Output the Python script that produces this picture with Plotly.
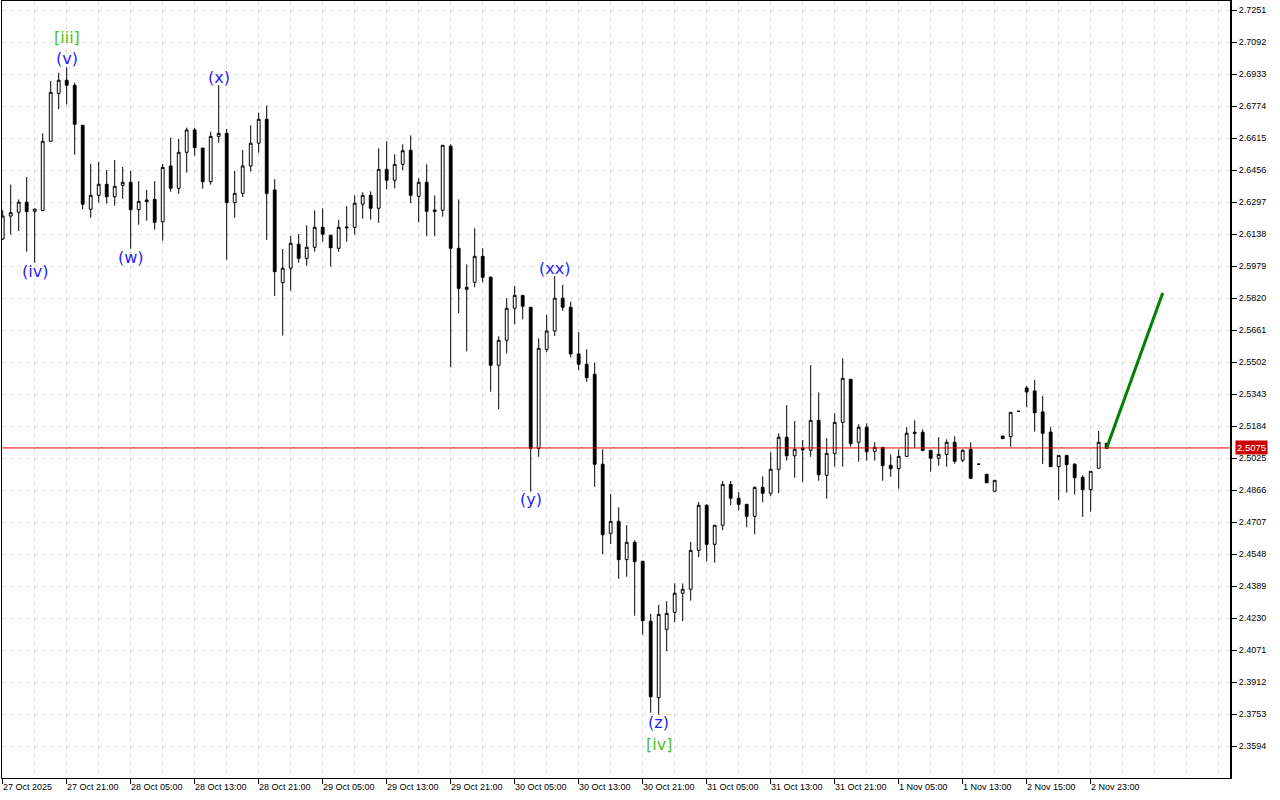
import plotly.graph_objects as go

# ---------------- data (hourly candles) ----------------
opens = [2.6113, 2.6227, 2.6246, 2.6296, 2.6251, 2.6254, 2.6599, 2.6837, 2.6902, 2.6877,
         2.6678, 2.6261, 2.6330, 2.6385, 2.6323, 2.6380, 2.6395, 2.6259, 2.6307, 2.6310,
         2.6199, 2.6476, 2.6365, 2.6544, 2.6655, 2.6565, 2.6398, 2.6623, 2.6638, 2.6294,
         2.6340, 2.6476, 2.6589, 2.6708, 2.6357, 2.5896, 2.5968, 2.6087, 2.6017, 2.6072,
         2.6171, 2.6132, 2.6067, 2.6173, 2.6171, 2.6286, 2.6330, 2.6266, 2.6459, 2.6405,
         2.6484, 2.6554, 2.6325, 2.6395, 2.6257, 2.6256, 2.6574, 2.6067, 2.5863, 2.5898,
         2.6027, 2.5923, 2.5486, 2.5610, 2.5769, 2.5833, 2.5774, 2.5073, 2.5565, 2.5656,
         2.5819, 2.5774, 2.5542, 2.5491, 2.5441, 2.4994, 2.4651, 2.4710, 2.4520, 2.4606,
         2.4512, 2.4214, 2.3834, 2.4174, 2.4258, 2.4353, 2.4373, 2.4566, 2.4790, 2.4596,
         2.4691, 2.4894, 2.4825, 2.4795, 2.4735, 2.4879, 2.4850, 2.4969, 2.5128, 2.5036,
         2.5073, 2.5063, 2.5212, 2.4939, 2.5048, 2.5202, 2.5416, 2.5103, 2.5178, 2.5058,
         2.5078, 2.4989, 2.4972, 2.5033, 2.5153, 2.5153, 2.5063, 2.5024, 2.5043, 2.5103,
         2.5014, 2.5068, 2.4994, 2.4944, 2.4860, 2.5134, 2.5131, 2.5257, 2.5373, 2.5358,
         2.5254, 2.5154, 2.4982, 2.5038, 2.4994, 2.4929, 2.4868, 2.4974, 2.5098]

highs = [2.6257, 2.6383, 2.6310, 2.6421, 2.6262, 2.6638, 2.6898, 2.6939, 2.6966, 2.6890,
         2.6678, 2.6486, 2.6496, 2.6456, 2.6506, 2.6471, 2.6451, 2.6401, 2.6357, 2.6401,
         2.6486, 2.6617, 2.6610, 2.6666, 2.6666, 2.6565, 2.6646, 2.6877, 2.6660, 2.6451,
         2.6555, 2.6678, 2.6741, 2.6777, 2.6410, 2.6063, 2.6128, 2.6138, 2.6181, 2.6256,
         2.6266, 2.6132, 2.6208, 2.6276, 2.6330, 2.6345, 2.6350, 2.6564, 2.6599, 2.6534,
         2.6584, 2.6628, 2.6415, 2.6484, 2.6330, 2.6579, 2.6584, 2.6310, 2.5987, 2.6166,
         2.6067, 2.5928, 2.5630, 2.5819, 2.5880, 2.5833, 2.5774, 2.5620, 2.5736, 2.5929,
         2.5885, 2.5802, 2.5650, 2.5565, 2.5499, 2.5068, 2.4846, 2.4780, 2.4691, 2.4616,
         2.4512, 2.4251, 2.4295, 2.4313, 2.4402, 2.4402, 2.4608, 2.4806, 2.4795, 2.4691,
         2.4911, 2.4911, 2.4855, 2.4795, 2.4884, 2.4934, 2.5053, 2.5148, 2.5288, 2.5209,
         2.5114, 2.5487, 2.5351, 2.5123, 2.5247, 2.5520, 2.5416, 2.5193, 2.5197, 2.5103,
         2.5078, 2.5043, 2.5068, 2.5178, 2.5212, 2.5168, 2.5063, 2.5128, 2.5118, 2.5133,
         2.5068, 2.5103, 2.4996, 2.4944, 2.4914, 2.5134, 2.5252, 2.5259, 2.5383, 2.5413,
         2.5333, 2.5178, 2.5038, 2.5038, 2.4999, 2.4939, 2.4959, 2.5159, 2.5098]

lows = [2.6108, 2.6135, 2.6153, 2.6050, 2.5995, 2.6254, 2.6599, 2.6758, 2.6781, 2.6532,
        2.6261, 2.6219, 2.6294, 2.6289, 2.6279, 2.6313, 2.6065, 2.6184, 2.6204, 2.6159,
        2.6105, 2.6348, 2.6338, 2.6443, 2.6527, 2.6363, 2.6383, 2.6592, 2.6010, 2.6219,
        2.6322, 2.6448, 2.6542, 2.6108, 2.5830, 2.5633, 2.5856, 2.5995, 2.5981, 2.6050,
        2.6100, 2.5976, 2.6050, 2.6100, 2.6135, 2.6214, 2.6209, 2.6194, 2.6360, 2.6365,
        2.6455, 2.6291, 2.6196, 2.6127, 2.6127, 2.6224, 2.5476, 2.5744, 2.5555, 2.5873,
        2.5898, 2.5354, 2.5267, 2.5545, 2.5689, 2.5714, 2.4858, 2.5031, 2.5550, 2.5631,
        2.5757, 2.5525, 2.5462, 2.5404, 2.4882, 2.4548, 2.4598, 2.4425, 2.4435, 2.4241,
        2.4147, 2.3759, 2.3750, 2.4065, 2.4209, 2.4214, 2.4316, 2.4532, 2.4512, 2.4505,
        2.4666, 2.4790, 2.4765, 2.4681, 2.4646, 2.4805, 2.4835, 2.4850, 2.5012, 2.4927,
        2.4907, 2.5031, 2.4912, 2.4823, 2.4982, 2.4982, 2.5081, 2.5007, 2.5012, 2.5012,
        2.4912, 2.4932, 2.4872, 2.5033, 2.5073, 2.5058, 2.4957, 2.4987, 2.4982, 2.4997,
        2.5004, 2.4924, 2.4991, 2.4902, 2.4855, 2.5121, 2.5081, 2.5255, 2.5277, 2.5156,
        2.4995, 2.4982, 2.4816, 2.4853, 2.4843, 2.4733, 2.4758, 2.4974, 2.5073]

closes = [2.6227, 2.6244, 2.6296, 2.6249, 2.6262, 2.6599, 2.6842, 2.6902, 2.6877, 2.6683,
          2.6286, 2.6330, 2.6385, 2.6323, 2.6375, 2.6395, 2.6259, 2.6300, 2.6299, 2.6196,
          2.6469, 2.6365, 2.6544, 2.6655, 2.6567, 2.6398, 2.6623, 2.6638, 2.6294, 2.6340,
          2.6476, 2.6589, 2.6708, 2.6340, 2.5951, 2.5968, 2.6092, 2.6017, 2.6072, 2.6171,
          2.6137, 2.6070, 2.6171, 2.6169, 2.6291, 2.6330, 2.6266, 2.6459, 2.6405, 2.6484,
          2.6552, 2.6330, 2.6395, 2.6251, 2.6251, 2.6579, 2.6067, 2.5868, 2.5873, 2.6027,
          2.5923, 2.5486, 2.5610, 2.5769, 2.5833, 2.5779, 2.5073, 2.5570, 2.5656, 2.5819,
          2.5774, 2.5542, 2.5491, 2.5424, 2.4994, 2.4644, 2.4710, 2.4520, 2.4606, 2.4510,
          2.4217, 2.3839, 2.4248, 2.4253, 2.4353, 2.4373, 2.4566, 2.4790, 2.4596, 2.4691,
          2.4894, 2.4825, 2.4795, 2.4735, 2.4879, 2.4850, 2.4969, 2.5128, 2.5036, 2.5068,
          2.5066, 2.5212, 2.4942, 2.5048, 2.5202, 2.5421, 2.5096, 2.5178, 2.5056, 2.5078,
          2.4987, 2.4972, 2.5033, 2.5148, 2.5148, 2.5063, 2.5024, 2.5043, 2.5103, 2.5009,
          2.5063, 2.4924, 2.4994, 2.4902, 2.4914, 2.5121, 2.5252, 2.5257, 2.5353, 2.5250,
          2.5148, 2.4982, 2.5038, 2.4992, 2.4927, 2.4868, 2.4959, 2.5103, 2.5073]

x_tick_bars = [0, 8, 16, 24, 32, 40, 48, 56, 64, 72, 80, 88, 96, 104, 112, 120, 128, 136]
x_tick_labels = ["27 Oct 2025", "27 Oct 21:00", "28 Oct 05:00", "28 Oct 13:00", "28 Oct 21:00",
                 "29 Oct 05:00", "29 Oct 13:00", "29 Oct 21:00", "30 Oct 05:00", "30 Oct 13:00",
                 "30 Oct 21:00", "31 Oct 05:00", "31 Oct 13:00", "31 Oct 21:00", "1 Nov 05:00",
                 "1 Nov 13:00", "2 Nov 15:00", "2 Nov 23:00"]

y_tick_labels = ["2.3594", "2.3753", "2.3912", "2.4071", "2.4230", "2.4389", "2.4548", "2.4707",
                 "2.4866", "2.5025", "2.5184", "2.5343", "2.5502", "2.5661", "2.5820", "2.5979",
                 "2.6138", "2.6297", "2.6456", "2.6615", "2.6774", "2.6933", "2.7092", "2.7251"]

current_price = 2.5075
forecast_bars = [138, 145]
forecast_prices = [2.5075, 2.5845]

BLUE = "#1f1fff"
GREEN = "#4fc02a"
# (text, bar index, anchor, pixel offset, colour)
wave_labels = [
    ("[iii]", 8, "high", 30, GREEN),
    ("(v)", 8, "high", 9, BLUE),
    ("(iv)", 4, "low", -9, BLUE),
    ("(w)", 16, "low", -9, BLUE),
    ("(x)", 27, "high", 8, BLUE),
    ("(xx)", 69, "high", 8, BLUE),
    ("(y)", 66, "low", -8, BLUE),
    ("(z)", 82, "low", -8, BLUE),
    ("[iv]", 82, "low", -30, GREEN),
]

# ---------------- figure ----------------
bars = list(range(len(opens)))

fig = go.Figure()
fig.add_trace(go.Candlestick(
    x=bars, open=opens, high=highs, low=lows, close=closes,
    increasing=dict(line=dict(color="black", width=1), fillcolor="white"),
    decreasing=dict(line=dict(color="black", width=1), fillcolor="black"),
    whiskerwidth=0, showlegend=False, hoverinfo="skip",
))

fig.add_trace(go.Scatter(
    x=forecast_bars, y=forecast_prices, mode="lines",
    line=dict(color="#008000", width=3), showlegend=False, hoverinfo="skip",
))

# current price line
fig.add_shape(type="line", xref="paper", x0=0, x1=1, yref="y",
              y0=current_price, y1=current_price,
              line=dict(color="#e00000", width=1), layer="above")

fig.add_annotation(xref="paper", x=1, xanchor="left", xshift=4,
                   yref="y", y=current_price, yanchor="middle",
                   text=f"{current_price:.4f}", showarrow=False,
                   bgcolor="#c80000", borderpad=1,
                   font=dict(family="Liberation Sans", size=9.5, color="white"))

# wave labels
for text, idx, anchor, off, col in wave_labels:
    yv = highs[idx] if anchor == "high" else lows[idx]
    fig.add_annotation(x=idx, y=yv, xref="x", yref="y", text=text, showarrow=False,
                       yanchor="middle", yshift=off,
                       font=dict(family="DejaVu Sans", size=16, color=col))

# x tick labels (left aligned to the tick as in the terminal)
for b, lab in zip(x_tick_bars, x_tick_labels):
    fig.add_annotation(x=b, y=0, xref="x", yref="paper", text=lab, showarrow=False,
                       xanchor="left", yanchor="top", xshift=-2, yshift=-2,
                       font=dict(family="Liberation Sans", size=9, color="black"))

grid_col = "#dedede"
fig.update_layout(
    width=1280, height=800,
    margin=dict(l=2, r=49, t=1, b=22, autoexpand=False),
    paper_bgcolor="white", plot_bgcolor="white",
    boxgap=0.5,
    showlegend=False,
    xaxis=dict(
        range=[-0.0875, 153.54],
        tickmode="array", tickvals=x_tick_bars, showticklabels=False,
        ticks="outside", ticklen=5, tickcolor="black", tickwidth=1,
        showgrid=True, gridcolor=grid_col, griddash="4px,4px", gridwidth=1,
        minor=dict(tickmode="linear", tick0=0, dtick=4, showgrid=True,
                   gridcolor=grid_col, griddash="4px,4px", gridwidth=1, ticks=""),
        showline=True, linecolor="black", linewidth=1, mirror=True,
        zeroline=False, rangeslider=dict(visible=False), fixedrange=True,
        automargin=False,
    ),
    yaxis=dict(
        side="right",
        range=[2.3435, 2.72957],
        tickmode="array", tickvals=[float(v) for v in y_tick_labels], ticktext=y_tick_labels,
        ticks="outside", ticklen=5, tickcolor="black", tickwidth=1,
        tickfont=dict(family="Liberation Sans", size=9, color="black"),
        showgrid=True, gridcolor=grid_col, griddash="4px,4px", gridwidth=1,
        showline=True, linecolor="black", linewidth=1, mirror=True,
        zeroline=False, fixedrange=True, automargin=False,
    ),
)

# thicker right-hand axis line, as in the terminal
fig.add_shape(type="line", xref="paper", yref="paper", x0=1, x1=1, y0=0, y1=1,
              line=dict(color="black", width=2), layer="above")

# the page itself should have no margin so the chart sits at the window origin
fig.write_html("out.html",
               config={"displayModeBar": False, "staticPlot": True},
               post_script="document.body.style.margin='0px';document.body.style.padding='0px';")
